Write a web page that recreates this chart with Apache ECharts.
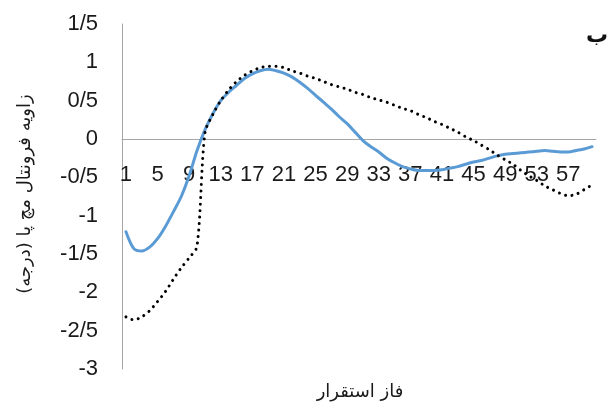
<!DOCTYPE html>
<html>
<head>
<meta charset="utf-8">
<script src="https://cdn.jsdelivr.net/npm/echarts@6/dist/echarts.min.js"></script>
<style>
  html, body { margin: 0; padding: 0; background: #fff; }
  #chart { width: 610px; height: 407px; }
</style>
</head>
<body>
<div id="chart"></div>
<script>
// Stance phase samples (1..60)
const categories = Array.from({ length: 60 }, (_, i) => String(i + 1));

// Frontal ankle angle (degrees), solid blue trace
const seriesSolid = [
  -1.21, -1.43, -1.46, -1.41, -1.30, -1.14, -0.95, -0.75, -0.48, -0.15,
   0.12,  0.33,  0.50,  0.61,  0.70,  0.79,  0.85,  0.89,  0.91,  0.89,
   0.86,  0.81,  0.74,  0.66,  0.57,  0.48,  0.39,  0.29,  0.20,  0.09,
  -0.02, -0.10, -0.17, -0.25, -0.31, -0.36, -0.39, -0.41, -0.41, -0.41,
  -0.40, -0.38, -0.36, -0.33, -0.30, -0.28, -0.25, -0.22, -0.20, -0.19,
  -0.18, -0.17, -0.16, -0.15, -0.16, -0.17, -0.17, -0.15, -0.13, -0.10
];

// Frontal ankle angle (degrees), dotted black trace
const seriesDotted = [
  -2.32, -2.36, -2.32, -2.24, -2.12, -1.99, -1.83, -1.68, -1.55, -1.40,
   0.08,  0.32,  0.50,  0.64,  0.75,  0.83,  0.89,  0.93,  0.95,  0.95,
   0.93,  0.89,  0.86,  0.82,  0.79,  0.75,  0.71,  0.68,  0.65,  0.61,
   0.58,  0.54,  0.51,  0.48,  0.44,  0.40,  0.37,  0.32,  0.28,  0.23,
   0.19,  0.14,  0.09,  0.03, -0.02, -0.08, -0.14, -0.21, -0.27, -0.33,
  -0.41, -0.48, -0.54, -0.61, -0.66, -0.71, -0.74, -0.72, -0.66, -0.60
];

const yTitle = 'زاویه فرونتال مچ پا (درجه)';
const xTitle = 'فاز استقرار';
const panelTag = 'ب';

const chart = echarts.init(document.getElementById('chart'), null, { renderer: 'canvas' });

const labelFont = '"Liberation Sans", Arial, sans-serif';
const arabicFont = '"DejaVu Sans", sans-serif';
const axisGray = '#a6a6a6';

chart.setOption({
  animation: false,
  backgroundColor: '#ffffff',
  grid: { left: 122, right: 14, top: 24, bottom: 38, containLabel: false },
  xAxis: {
    type: 'category',
    data: categories,
    boundaryGap: true,
    axisLine: { show: true, onZero: true, lineStyle: { color: axisGray, width: 1 } },
    axisTick: { show: false },
    axisLabel: {
      interval: 3,
      margin: -205,
      fontSize: 22,
      color: '#1a1a1a',
      fontFamily: labelFont
    },
    splitLine: { show: false }
  },
  yAxis: {
    type: 'value',
    min: -3,
    max: 1.5,
    interval: 0.5,
    axisLine: { show: true, lineStyle: { color: axisGray, width: 1 } },
    axisTick: { show: false },
    splitLine: { show: false },
    axisLabel: {
      margin: 24,
      fontSize: 22,
      color: '#1a1a1a',
      fontFamily: labelFont,
      formatter: v => String(v).replace('.', '/')
    }
  },
  series: [
    {
      type: 'line',
      data: seriesSolid,
      smooth: 0.3,
      symbol: 'none',
      lineStyle: { color: '#5b9bd5', width: 3, cap: 'round', join: 'round' },
      z: 3
    },
    {
      type: 'line',
      data: seriesDotted,
      smooth: 0.3,
      symbol: 'none',
      lineStyle: { color: '#000', width: 3, type: [0.01, 6.5], cap: 'round' },
      z: 4
    }
  ],
  graphic: [
    {
      type: 'text',
      x: 25, y: 194,
      rotation: Math.PI / 2,
      style: {
        text: yTitle,
        font: '18px ' + arabicFont,
        fill: '#1a1a1a',
        align: 'center',
        verticalAlign: 'middle'
      }
    },
    {
      type: 'text',
      x: 360, y: 392,
      style: {
        text: xTitle,
        font: '18px ' + arabicFont,
        fill: '#1a1a1a',
        align: 'center',
        verticalAlign: 'middle'
      }
    },
    {
      type: 'text',
      x: 597, y: 36,
      style: {
        text: panelTag,
        font: 'bold 22px ' + arabicFont,
        fill: '#111',
        align: 'center',
        verticalAlign: 'middle'
      }
    }
  ]
});
</script>
</body>
</html>
